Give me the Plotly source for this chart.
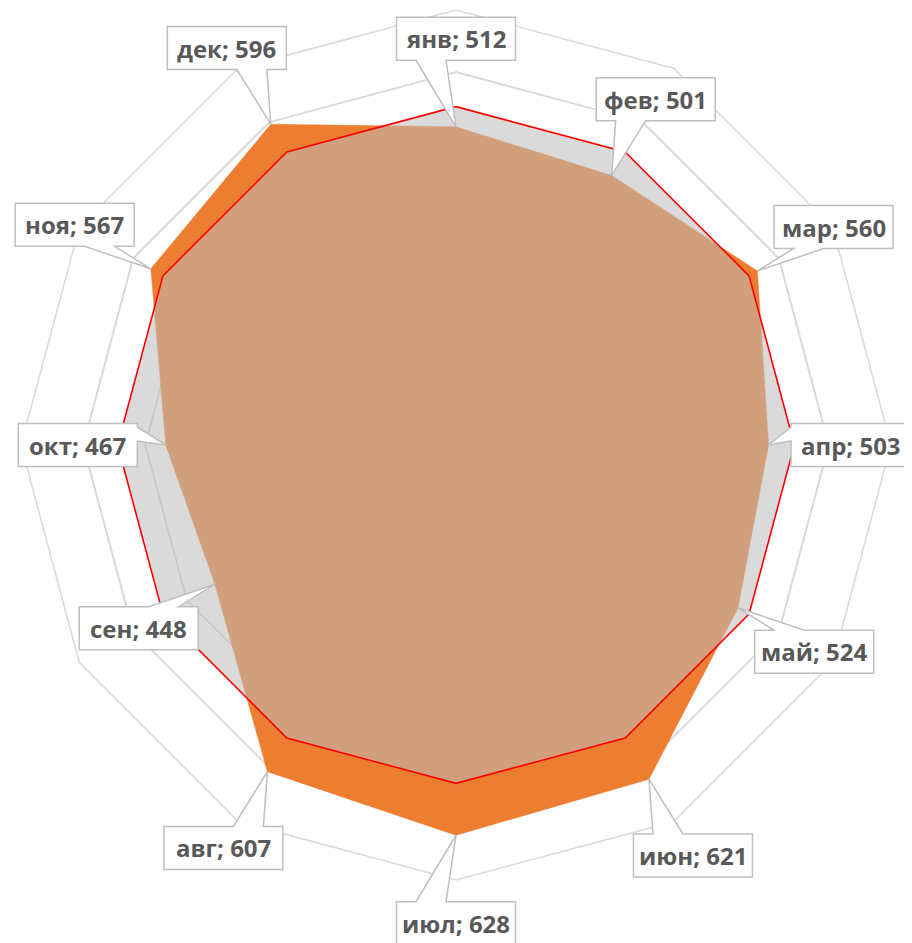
import math
import plotly.graph_objects as go

months = ["янв", "фев", "мар", "апр", "май", "июн", "июл", "авг", "сен", "окт", "ноя", "дек"]
values = [512, 501, 560, 503, 524, 621, 628, 607, 448, 467, 567, 596]
average = [544.5, 544.5, 544.5, 544.5, 544.5, 544.5, 544.5, 544.5, 544.5, 544.5, 544.5, 544.5]
radial_ticks = [100, 200, 300, 400, 500, 600, 700]
r_max = 700

W, H = 912, 943
ML, MT = 13, 2
SIDE = 870
MR = W - ML - SIDE
MB = H - MT - SIDE

theta_closed = months + [months[0]]

fig = go.Figure()
fig.add_trace(go.Scatterpolar(
    r=values + [values[0]], theta=theta_closed, mode="lines", fill="toself",
    fillcolor="#ED7D31", line=dict(color="#ED7D31", width=0.5), hoverinfo="skip"))
fig.add_trace(go.Scatterpolar(
    r=average + [average[0]], theta=theta_closed, mode="lines", fill="toself",
    fillcolor="rgba(188,188,188,0.55)", line=dict(color="rgba(0,0,0,0)", width=0), hoverinfo="skip"))
fig.add_trace(go.Scatterpolar(
    r=average + [average[0]], theta=theta_closed, mode="lines",
    line=dict(color="#FF0000", width=1.6), hoverinfo="skip"))


def to_paper(px, py):
    return (px - ML) / SIDE, 1 - (py - MT) / SIDE


annotations = []
shapes = []
offset = 88
hw, hh = 59.5, 21.5
for i, (m, v) in enumerate(zip(months, values)):
    ang = math.radians(i * 360 / len(months))
    frac = v / r_max
    tx = ML + SIDE / 2 + SIDE / 2 * frac * math.sin(ang)
    ty = MT + SIDE / 2 - SIDE / 2 * frac * math.cos(ang)
    cx = tx + offset * math.sin(ang)
    cy = ty - offset * math.cos(ang)
    cx = min(max(cx, hw + 2), W - 10 - hw)
    dx, dy = tx - cx, ty - cy
    L, R, T, B = cx - hw, cx + hw, cy - hh, cy + hh
    pts = [(L, T)]
    if abs(dx) * hh > abs(dy) * hw:
        # wedge on a vertical edge
        bc = cy - 11
        if dx > 0:
            pts += [(R, T), (R, bc - 7), (tx, ty), (R, bc + 7), (R, B), (L, B)]
        else:
            pts += [(R, T), (R, B), (L, B), (L, bc + 7), (tx, ty), (L, bc - 7)]
    else:
        s = 1 if dx > 1e-6 else -1
        bc = cx + s * 25
        if dy > 0:
            pts += [(R, T), (R, B), (bc + 15, B), (tx, ty), (bc - 15, B), (L, B)]
        else:
            pts += [(bc - 15, T), (tx, ty), (bc + 15, T), (R, T), (R, B), (L, B)]
    path = ""
    for k, (px, py) in enumerate(pts):
        xp, yp = to_paper(px, py)
        path += ("M" if k == 0 else "L") + f"{xp:.5f},{yp:.5f} "
    path += "Z"
    shapes.append(dict(type="path", path=path, xref="paper", yref="paper",
                       fillcolor="white", line=dict(color="#BFBFBF", width=1.5), layer="above"))
    xa, ya = to_paper(cx, cy)
    annotations.append(dict(
        x=xa, y=ya, xref="paper", yref="paper", xanchor="center", yanchor="middle",
        text=f"{m}; {v}", showarrow=False,
        font=dict(family="Open Sans", size=24, color="#595959", weight="bold")))

fig.update_layout(
    width=W, height=H,
    margin=dict(l=ML, r=MR, t=MT, b=MB),
    paper_bgcolor="white", plot_bgcolor="white",
    showlegend=False,
    polar=dict(
        bgcolor="white",
        gridshape="linear",
        domain=dict(x=[0, 1], y=[0, 1]),
        radialaxis=dict(range=[0, r_max], tickvals=radial_ticks, showticklabels=False,
                        showline=False, ticks="", gridcolor="#D9D9D9", gridwidth=1.5,
                        layer="below traces"),
        angularaxis=dict(rotation=90, direction="clockwise", showticklabels=False,
                         ticks="", showgrid=False, showline=True, linecolor="#D9D9D9",
                         linewidth=1.5, layer="below traces"),
    ),
    shapes=shapes,
    annotations=annotations,
)

fig.write_html("out.html")
